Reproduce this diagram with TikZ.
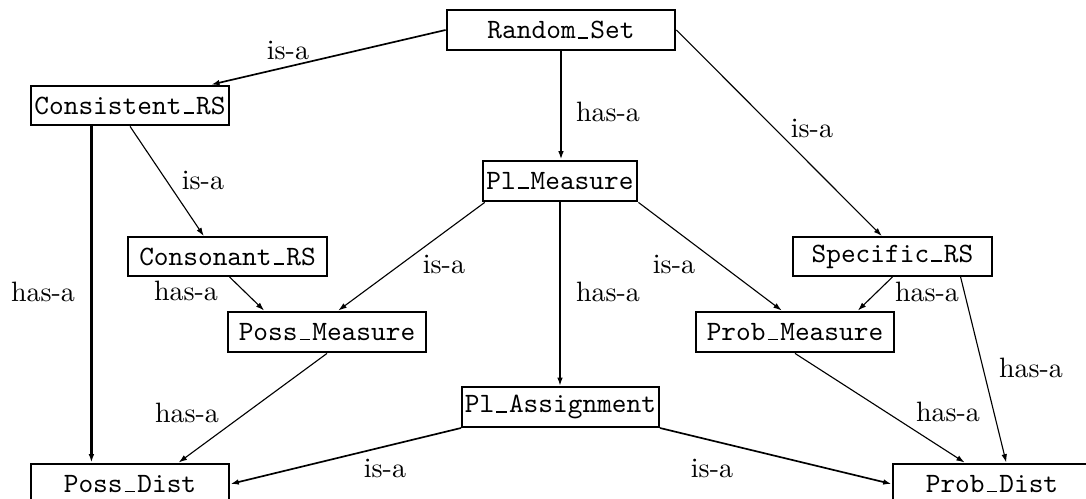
\documentclass[tikz,border=0pt]{standalone}
\usetikzlibrary{arrows.meta,calc}
\newcommand\ubar{\makebox[0.525em]{\rule{0.38em}{0.7pt}}}
\begin{document}
\begin{tikzpicture}[x=0.357pt,y=-0.357pt,
  box/.style={draw,line width=1pt,inner sep=0pt,font=\ttfamily,minimum height=14.3pt},
  boxthin/.style={box,line width=0.7pt,minimum height=13.9pt},
  arr/.style={-{Latex[length=3pt,width=2pt]},line width=0.4pt},
  arrthick/.style={arr,line width=0.9pt},
  arrmid/.style={arr,line width=0.6pt},
  lbl/.style={font=\rmfamily,inner sep=0pt}]
\clip (0,0) rectangle (1086,499);
% nodes
\node[box,minimum width=81.4pt] (RS) at (561,30) {Random\ubar Set};
\node[box,minimum width=70.7pt,minimum height=13.9pt] (CRS) at (130,105.5) {Consistent\ubar RS};
\node[box,minimum width=55pt] (PM) at (560,181) {Pl\ubar Measure};
\node[boxthin,minimum width=71pt] (CoRS) at (227.5,256.5) {Consonant\ubar RS};
\node[boxthin,minimum width=71pt] (SRS) at (892.5,256.5) {Specific\ubar RS};
\node[box,minimum width=70.7pt] (PossM) at (327,332) {Poss\ubar Measure};
\node[box,minimum width=70.7pt] (ProbM) at (795,332) {Prob\ubar Measure};
\node[boxthin,minimum width=70.3pt,minimum height=14.3pt] (PA) at (560.5,407) {Pl\ubar Assignment};
\node[box,minimum width=70.7pt] (PossD) at (130,484) {Poss\ubar Dist};
\node[box,minimum width=70.7pt] (ProbD) at (992,484) {Prob\ubar Dist};
% connectors
\draw[arrmid] (RS.west) -- ($(CRS.north west)!0.904!(CRS.north east)$);
\draw[arr] (RS.east) -- ($(SRS.north west)!0.447!(SRS.north east)$);
\draw[arrthick] (RS.south) -- (RS.south |- PM.north);
\draw[arrthick] ($(CRS.south west)!0.308!(CRS.south east)$) -- ($(PossD.north west)!0.308!(PossD.north east)$);
\draw[arr] (CRS.south) -- ($(CoRS.north west)!0.382!(CoRS.north east)$);
\draw[arr] ($(CoRS.south west)!0.51!(CoRS.south east)$) -- ($(PossM.north west)!0.187!(PossM.north east)$);
\draw[arr] ($(PM.south west)!0.02!(PM.south east)$) -- ($(PossM.north west)!0.556!(PossM.north east)$);
\draw[arr] (PM.south east) -- ($(ProbM.north west)!0.434!(ProbM.north east)$);
\draw[arrthick] (PM.south) -- (PM.south |- PA.north);
\draw[arr] (SRS.south) -- ($(ProbM.north west)!0.813!(ProbM.north east)$);
\draw[arr] ($(SRS.south west)!0.839!(SRS.south east)$) -- ($(ProbD.north west)!0.571!(ProbD.north east)$);
\draw[arr] (PossM.south) -- ($(PossD.north west)!0.742!(PossD.north east)$);
\draw[arr] (ProbM.south) -- ($(ProbD.north west)!0.364!(ProbD.north east)$);
\draw[arrmid] (PA.south west) -- (PossD.east);
\draw[arrmid] (PA.south east) -- (ProbD.west);
% labels
\node[lbl] (l1) at (288,50) {is-a};
\node[lbl] (l2) at (812,128) {is-a};
\node[lbl] (l3) at (608,112) {has-a};
\node[lbl] (l4) at (43,292) {has-a};
\node[lbl] (l5) at (203,180) {is-a};
\node[lbl] (l6) at (186,291) {has-a};
\node[lbl] (l7) at (444,264) {is-a};
\node[lbl] (l8) at (674,264) {is-a};
\node[lbl] (l9) at (608,292) {has-a};
\node[lbl] (l10) at (927,292) {has-a};
\node[lbl] (l11) at (1031,368) {has-a};
\node[lbl] (l12) at (187,413) {has-a};
\node[lbl] (l13) at (948,412) {has-a};
\node[lbl] (l14) at (385,468) {is-a};
\node[lbl] (l15) at (712,468) {is-a};
\end{tikzpicture}
\end{document}
